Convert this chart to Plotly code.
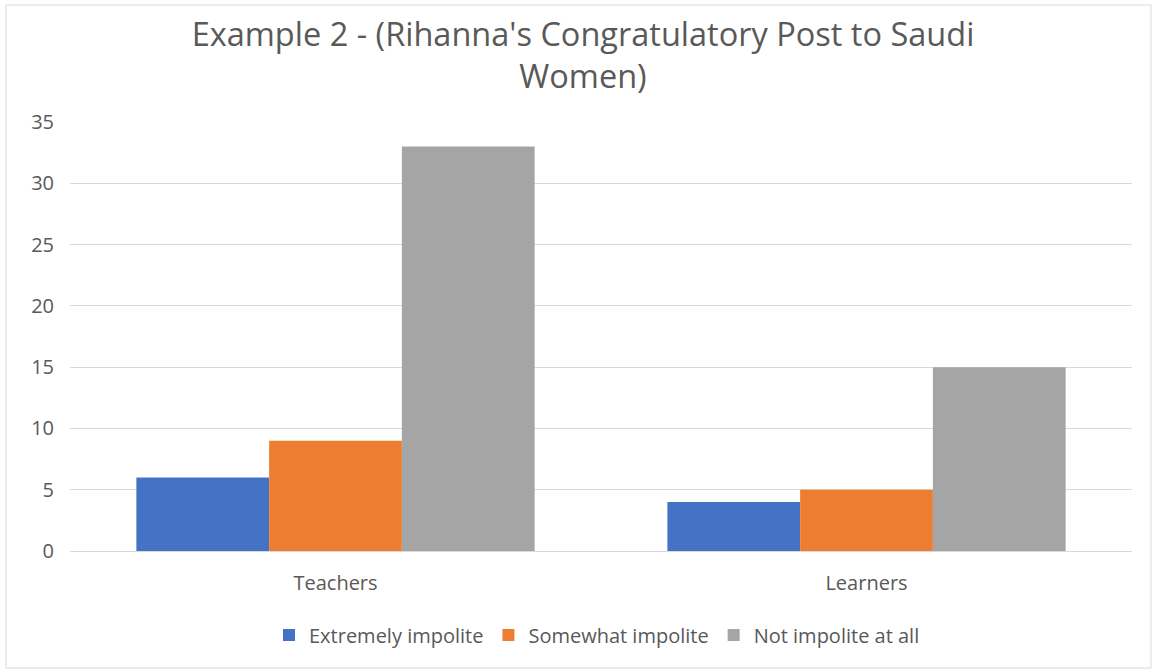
import plotly.graph_objects as go

categories = ["Teachers", "Learners"]
series_names = ["Extremely impolite", "Somewhat impolite", "Not impolite at all"]
extremely = [6, 4]
somewhat = [9, 5]
not_at_all = [33, 15]
colors = ["#4472C4", "#ED7D31", "#A5A5A5"]
y_ticks = [0, 5, 10, 15, 20, 25, 30, 35]

fig = go.Figure()
for name, vals, c in zip(series_names, [extremely, somewhat, not_at_all], colors):
    fig.add_trace(go.Bar(x=categories, y=vals, name=name, marker=dict(color=c, line=dict(width=0))))

L, R, T, B = 70, 24, 122, 121
W, H = 1156, 672
pw, ph = W - L - R, H - T - B
FONT = "Open Sans, sans-serif"

fig.update_layout(
    width=W, height=H,
    margin=dict(l=L, r=R, t=T, b=B),
    paper_bgcolor="white", plot_bgcolor="white",
    font=dict(family=FONT, color="#595959"),
    title=dict(text="Example 2 - (Rihanna's Congratulatory Post to Saudi<br>Women)",
               x=583 / W, xanchor="center", y=1 - 46 / H, yanchor="middle",
               font=dict(size=32.5, color="#595959", family=FONT)),
    barmode="group", bargap=0.25, bargroupgap=0,
    showlegend=True,
    legend=dict(orientation="h", x=0.5 + (597 - (L + pw / 2)) / pw, xanchor="center",
                y=-(635 - (T + ph)) / ph, yanchor="middle",
                font=dict(size=20, color="#595959", family=FONT), itemwidth=30,
                traceorder="normal"),
    xaxis=dict(showgrid=False, showline=True, linecolor="#D9D9D9", linewidth=1,
               tickfont=dict(size=20, color="#595959", family=FONT), ticks="outside",
               ticklen=14, tickcolor="rgba(0,0,0,0)"),
    yaxis=dict(range=[0, 35], tickvals=y_ticks, showgrid=True, gridcolor="#D9D9D9",
               gridwidth=1, zeroline=False, showline=False,
               tickfont=dict(size=20, color="#595959", family=FONT), ticks="outside",
               ticklen=11, tickcolor="rgba(0,0,0,0)"),
)

fig.add_shape(type="rect", xref="paper", yref="paper",
              x0=(6 - L) / pw, x1=(1151 - L) / pw,
              y0=-(668 - (T + ph)) / ph, y1=1 + (T - 5) / ph,
              line=dict(color="#D9D9D9", width=1), fillcolor="rgba(0,0,0,0)", layer="below")

fig.write_html("out.html")
